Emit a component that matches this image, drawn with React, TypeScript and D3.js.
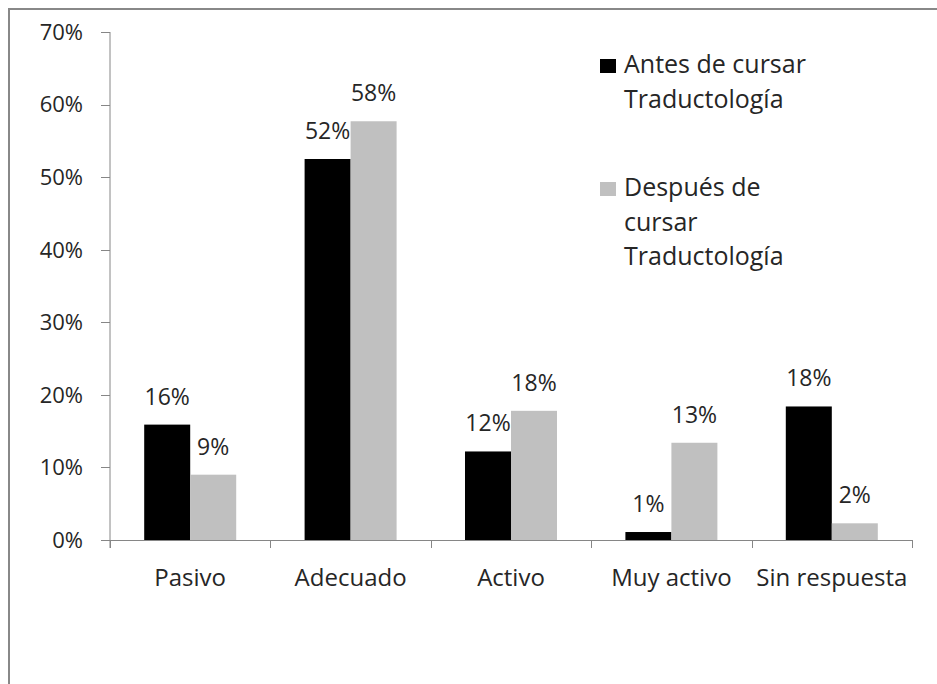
import React from "react";
import * as d3 from "d3";

const categories = ["Pasivo", "Adecuado", "Activo", "Muy activo", "Sin respuesta"];
const seriesNames = ["Antes de cursar Traductología", "Después de cursar Traductología"];
const antes = [0.159, 0.525, 0.122, 0.011, 0.184];
const despues = [0.09, 0.577, 0.178, 0.134, 0.023];
const antesLabels = ["16%", "52%", "12%", "1%", "18%"];
const despuesLabels = ["9%", "58%", "18%", "13%", "2%"];
const yTicks = [0, 0.1, 0.2, 0.3, 0.4, 0.5, 0.6, 0.7];
const legendLines = [["Antes de cursar", "Traductología"], ["Después de", "cursar", "Traductología"]];
const colors = ["#000000", "#c0c0c0"];

const W = 937;
const H = 684;
const FONT = "'Open Sans', 'Noto Sans', sans-serif";
const TEXT = "#262626";
const AXIS = "#868686";

export default function App() {
  const left = 110;
  const right = 912;
  const y = d3.scaleLinear().domain([0, 0.7]).range([540, 32]);
  const x0 = d3
    .scaleBand<string>()
    .domain(categories)
    .range([left, right])
    .paddingInner(0.4264)
    .paddingOuter(0.2132);
  const x1 = d3.scaleBand<string>().domain(seriesNames).range([0, x0.bandwidth()]);
  const step = (right - left) / categories.length;
  const fmt = d3.format(".0%");
  const data = [antes, despues];
  const labels = [antesLabels, despuesLabels];

  return (
    <div style={{ position: "absolute", left: 0, top: 0 }}>
      <svg width={W} height={H} style={{ display: "block", background: "#fff" }}>
        <rect x={9} y={9} width={W + 20} height={H + 20} fill="#fff" stroke="#888" strokeWidth={2} />
        {/* y axis */}
        <line x1={left} x2={left} y1={y(0.7)} y2={548} stroke={AXIS} strokeWidth={1} />
        {yTicks.map((t) => (
          <g key={t}>
            <line x1={left - 9} x2={left} y1={Math.round(y(t)) + 0.5} y2={Math.round(y(t)) + 0.5} stroke={AXIS} />
            <text
              x={83}
              y={y(t)}
              dy="0.36em"
              textAnchor="end"
              fontFamily={FONT}
              fontSize={22}
              fill={TEXT}
            >
              {fmt(t)}
            </text>
          </g>
        ))}
        {/* bars */}
        {categories.map((c, i) => (
          <g key={c}>
            {data.map((series, s) => {
              const bx = (x0(c) as number) + (x1(seriesNames[s]) as number);
              const bw = x1.bandwidth();
              const top = y(series[i]);
              return (
                <g key={s}>
                  <rect x={bx} y={top} width={bw} height={y(0) - top} fill={colors[s]} />
                  <text
                    x={bx + bw / 2}
                    y={top - 20}
                    textAnchor="middle"
                    fontFamily={FONT}
                    fontSize={23}
                    fill={TEXT}
                  >
                    {labels[s][i]}
                  </text>
                </g>
              );
            })}
            <text
              x={(x0(c) as number) + x0.bandwidth() / 2}
              y={586}
              textAnchor="middle"
              fontFamily={FONT}
              fontSize={24}
              fill={TEXT}
            >
              {c}
            </text>
          </g>
        ))}
        {/* x axis */}
        <line x1={left} x2={right} y1={540.5} y2={540.5} stroke={AXIS} />
        {d3.range(categories.length + 1).map((k) => (
          <line
            key={k}
            x1={Math.round(left + k * step) + 0.5}
            x2={Math.round(left + k * step) + 0.5}
            y1={540}
            y2={548}
            stroke={AXIS}
          />
        ))}
        {/* legend */}
        {legendLines.map((lines, s) => {
          const baseY = s === 0 ? 73 : 196;
          return (
            <g key={s}>
              <rect x={600} y={baseY - 14} width={16} height={14} fill={colors[s]} />
              {lines.map((ln, j) => (
                <text
                  key={j}
                  x={624}
                  y={baseY + j * 34.5}
                  fontFamily={FONT}
                  fontSize={25}
                  fill={TEXT}
                >
                  {ln}
                </text>
              ))}
            </g>
          );
        })}
      </svg>
    </div>
  );
}
